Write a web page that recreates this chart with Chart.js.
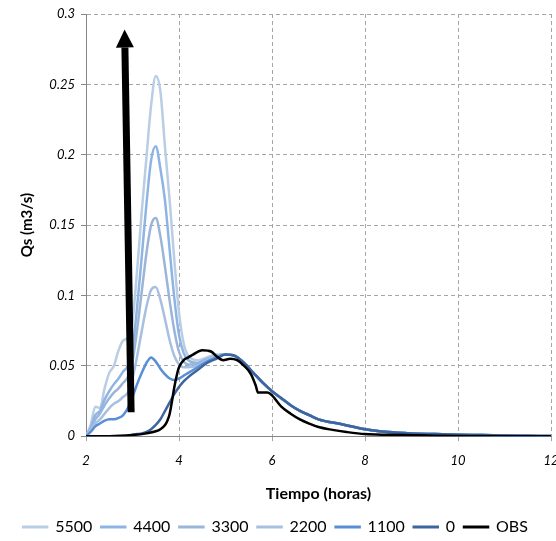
<!DOCTYPE html>
<html>
<head>
<meta charset="utf-8">
<script src="https://cdn.jsdelivr.net/npm/chart.js@4.4.1/dist/chart.umd.min.js"></script>
<style>
  html, body { margin: 0; padding: 0; background: #fff; }
  #wrap { width: 556px; height: 541px; position: relative; }
</style>
</head>
<body>
<div id="wrap"><canvas id="chart"></canvas></div>
<script>
// time axis (hours) shared by the simulated series
const hours = [2.0, 2.1, 2.2, 2.3, 2.4, 2.5, 2.6, 2.7, 2.8, 2.9, 3.0, 3.1, 3.2, 3.3, 3.4, 3.5, 3.6, 3.7, 3.8, 3.9,
  4.0, 4.1, 4.2, 4.4, 4.6, 4.8, 5.0, 5.2, 5.4, 5.6, 5.8, 6.0, 6.2, 6.4, 6.6, 6.8, 7.0, 7.5, 8.0, 8.5, 9.0, 9.5,
  10, 10.5, 11, 11.5, 12];

// recession part, common to all simulated series (from 5.0 h)
const tail = [0.058, 0.057, 0.052, 0.045, 0.038, 0.032, 0.027, 0.022, 0.018, 0.015, 0.012, 0.0085, 0.005,
  0.003, 0.002, 0.0015, 0.001, 0.0008, 0.0005, 0.0003, 0.0001];

const q5500 = [0, 0.008, 0.021, 0.02, 0.034, 0.045, 0.05, 0.061, 0.068, 0.07, 0.082, 0.118, 0.16, 0.198, 0.235, 0.256,
  0.245, 0.205, 0.167, 0.125, 0.088, 0.066, 0.057, 0.054, 0.056, 0.058];
const q4400 = [0, 0.006, 0.015, 0.018, 0.026, 0.032, 0.037, 0.041, 0.046, 0.05, 0.062, 0.092, 0.128, 0.165, 0.196, 0.206,
  0.19, 0.167, 0.132, 0.098, 0.072, 0.059, 0.054, 0.052, 0.055, 0.057];
const q3300 = [0, 0.005, 0.012, 0.016, 0.022, 0.027, 0.031, 0.034, 0.038, 0.042, 0.053, 0.076, 0.103, 0.13, 0.15, 0.155,
  0.142, 0.12, 0.096, 0.075, 0.06, 0.053, 0.051, 0.051, 0.054, 0.057];
const q2200 = [0, 0.004, 0.009, 0.012, 0.016, 0.02, 0.023, 0.025, 0.028, 0.031, 0.041, 0.057, 0.075, 0.092, 0.104, 0.106,
  0.097, 0.083, 0.068, 0.057, 0.051, 0.049, 0.049, 0.05, 0.054, 0.057];
const q1100 = [0, 0.003, 0.007, 0.009, 0.011, 0.012, 0.012, 0.013, 0.015, 0.02, 0.028, 0.037, 0.045, 0.052, 0.056, 0.053,
  0.048, 0.044, 0.041, 0.04, 0.041, 0.043, 0.045, 0.049, 0.053, 0.056];
const q0 = [0, 0, 0, 0, 0, 0, 0, 0, 0, 0, 0.001, 0.0015, 0.002, 0.003, 0.005, 0.008,
  0.012, 0.018, 0.024, 0.03, 0.035, 0.039, 0.042, 0.047, 0.052, 0.055];

// observed
const obsHours = [2, 2.5, 3, 3.3, 3.5, 3.6, 3.7, 3.75, 3.8, 3.85, 3.9, 3.95, 4.0, 4.1, 4.2, 4.3, 4.5, 4.7, 4.8, 4.95,
  5.1, 5.25, 5.4, 5.55, 5.65, 5.7, 5.9, 6.0, 6.2, 6.4, 6.6, 6.8, 7.0, 7.3, 7.6, 8.0, 8.5, 9, 9.5, 10, 11, 12];
const obsQ = [0, 0, 0.0008, 0.002, 0.0035, 0.005, 0.008, 0.011, 0.016, 0.025, 0.035, 0.043, 0.049, 0.054, 0.056, 0.058,
  0.061, 0.06, 0.057, 0.054, 0.055, 0.054, 0.05, 0.044, 0.036, 0.031, 0.031, 0.029, 0.021, 0.016, 0.012, 0.009,
  0.0065, 0.0045, 0.003, 0.0015, 0.001, 0.0007, 0.0004, 0.0002, 0, 0];

// arrow, in data units (hours, m3/s)
const arrowFrom = [2.97, 0.017];
const arrowTo = [2.83, 0.289];

const labels = ['5500', '4400', '3300', '2200', '1100', '0', 'OBS'];
const colors = ['#B9CDE5', '#8EB4E3', '#9BB5D8', '#A7C0E1', '#5A8FD6', '#3D659E', '#000000'];
const series = [q5500, q4400, q3300, q2200, q1100, q0];

function pts(xs, ys) {
  return xs.map((x, i) => ({ x: x, y: ys[i] }));
}

const datasets = series.map((s, i) => ({
  label: labels[i],
  data: pts(hours, s.concat(tail)),
  borderColor: colors[i],
  backgroundColor: colors[i],
  borderWidth: 2.5
}));
datasets.push({
  label: 'OBS',
  data: pts(obsHours, obsQ),
  borderColor: colors[6],
  backgroundColor: colors[6],
  borderWidth: 2.5
});
// first dataset is drawn on top in Chart.js, so reverse and flip the legend back
datasets.reverse();

const arrowPlugin = {
  id: 'arrow',
  afterDatasetsDraw(chart) {
    const xs = chart.scales.x, ys = chart.scales.y, ctx = chart.ctx;
    const x0 = xs.getPixelForValue(arrowFrom[0]), y0 = ys.getPixelForValue(arrowFrom[1]);
    const x1 = xs.getPixelForValue(arrowTo[0]), y1 = ys.getPixelForValue(arrowTo[1]);
    const ang = Math.atan2(y1 - y0, x1 - x0);
    const headLen = 18, headW = 9;
    const bx = x1 - headLen * Math.cos(ang), by = y1 - headLen * Math.sin(ang);
    ctx.save();
    ctx.strokeStyle = '#000';
    ctx.fillStyle = '#000';
    ctx.lineWidth = 7;
    ctx.beginPath();
    ctx.moveTo(x0, y0);
    ctx.lineTo(bx, by);
    ctx.stroke();
    ctx.beginPath();
    ctx.moveTo(x1, y1);
    ctx.lineTo(bx + headW * Math.sin(ang), by - headW * Math.cos(ang));
    ctx.lineTo(bx - headW * Math.sin(ang), by + headW * Math.cos(ang));
    ctx.closePath();
    ctx.fill();
    ctx.restore();
  }
};

Chart.defaults.font.family = 'Lato';
Chart.defaults.color = '#000';

new Chart(document.getElementById('chart'), {
  type: 'line',
  data: { datasets },
  options: {
    responsive: true,
    maintainAspectRatio: false,
    animation: false,
    layout: { padding: { top: 14, right: 5, left: 0, bottom: -4 } },
    elements: {
      point: { radius: 0 },
      line: { cubicInterpolationMode: 'monotone' }
    },
    plugins: {
      tooltip: { enabled: false },
      legend: {
        position: 'bottom',
        reverse: true,
        labels: { boxWidth: 24, boxHeight: 0.5, padding: 9, font: { size: 16 } }
      }
    },
    scales: {
      x: {
        type: 'linear',
        min: 2, max: 12,
        ticks: { stepSize: 2, padding: 12, font: { size: 13, style: 'italic' } },
        grid: { color: '#A6A6A6', tickLength: 5, tickColor: '#A6A6A6' },
        border: { color: '#868686', dash: [4, 3] },
        title: { display: true, text: 'Tiempo (horas)', font: { size: 16, weight: 'bold' }, padding: { top: 3, bottom: 7 } },
        afterFit(scale) { scale.paddingLeft = 0; scale.paddingRight = 0; }
      },
      y: {
        min: 0, max: 0.3,
        ticks: {
          stepSize: 0.05, padding: 6, font: { size: 13, style: 'italic' },
          callback: v => String(parseFloat(v.toFixed(2)))
        },
        grid: { color: '#A6A6A6', tickLength: 5, tickColor: '#868686' },
        border: { color: '#868686', dash: [4, 3] },
        title: { display: true, text: 'Qs (m3/s)', font: { size: 15, weight: 'bold' }, padding: { top: 18, bottom: 4 } },
        afterFit(scale) { scale.width = 86; }
      }
    }
  },
  plugins: [arrowPlugin]
});
</script>
</body>
</html>
